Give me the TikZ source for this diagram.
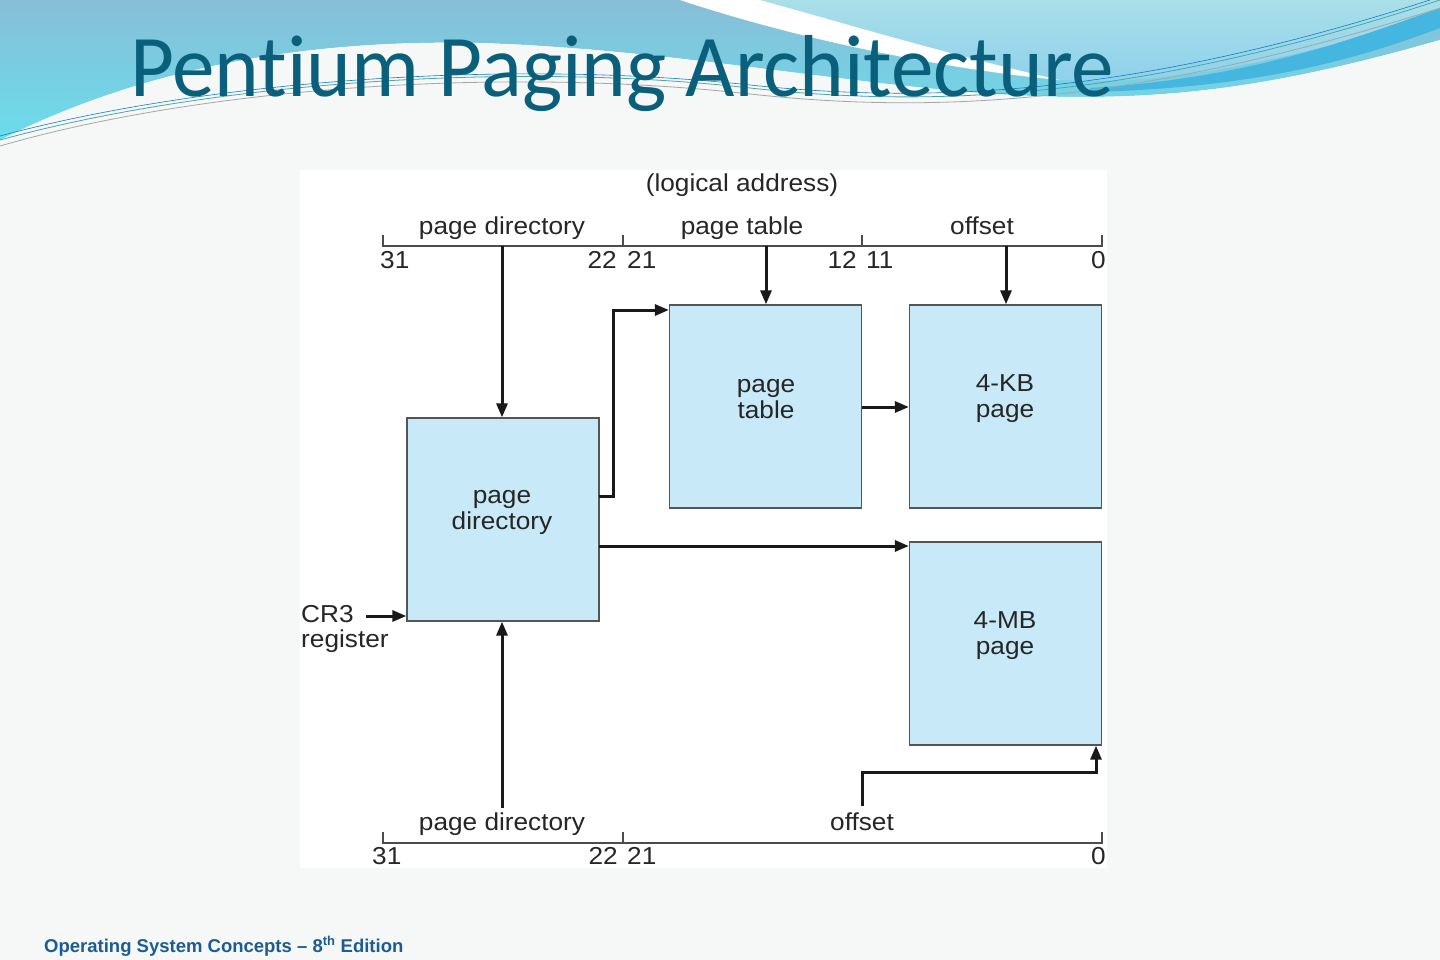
\documentclass[tikz,border=0pt]{standalone}
\usepackage{fontspec}
\setmainfont[FakeStretch=1.07]{Liberation Sans}
\newfontfamily\footfont[Ligatures=TeX]{Liberation Sans}
\newfontfamily\titlefont[Ligatures=NoCommon, FakeStretch=0.968]{Carlito}
\usetikzlibrary{arrows.meta,calc}
\definecolor{slidebg}{HTML}{F6F7F7}
\definecolor{boxfill}{HTML}{C8E9F8}
\definecolor{boxedge}{HTML}{555555}
\definecolor{titlecol}{RGB}{10,96,122}
\definecolor{footcol}{RGB}{28,92,145}
\definecolor{waveA}{HTML}{88BED7}
\definecolor{waveB}{HTML}{6ADDEC}
\definecolor{waveC}{HTML}{A9DFE8}
\definecolor{waveD}{HTML}{8CD0EC}
\definecolor{stripe}{HTML}{45B6E0}
\tikzset{
  pbox/.style={draw=boxedge, line width=1.3pt, fill=boxfill, minimum width=192pt, minimum height=203pt, inner sep=0pt},
  lbl/.style={font=\fontsize{24.5}{26}\selectfont, text=black!85, align=center, inner sep=0pt},
  txt/.style={font=\fontsize{24.5}{25}\selectfont, text=black!85, inner sep=0pt},
  arr/.style={line width=3pt, draw=black!90, -{Triangle[length=14pt,width=11pt]}},
  bar/.style={line width=1.5pt, draw=black!70},
}
\begin{document}
\begin{tikzpicture}[x=1pt,y=-1pt]
\useasboundingbox (0,0) rectangle (1440,960);
% slide background
\fill[slidebg] (0,0) rectangle (1440,960);
% header waves
\shade[top color=waveA, bottom color=waveB]
  (0,0) -- (1440,0) -- (1440,40) .. controls (1300,80) and (1200,97) .. (1080,97)
  .. controls (900,97) and (700,50) .. (480,43) .. controls (250,38) and (100,90) .. (0,140) -- cycle;
\shade[top color=waveC, bottom color=waveD]
  (760,0) .. controls (850,25) and (950,55) .. (1060,80) .. controls (1180,88) and (1320,50) .. (1440,15) -- (1440,0) -- cycle;
\fill[white] (680,0) .. controls (800,40) and (950,70) .. (1060,80) .. controls (950,55) and (850,25) .. (760,0) -- cycle;
\fill[stripe] (1090,88) .. controls (1250,78) and (1350,40) .. (1440,8) -- (1440,28) .. controls (1350,62) and (1250,88) .. (1090,92) -- cycle;
\fill[slidebg] (0,140) .. controls (100,90) and (250,38) .. (480,43) .. controls (700,50) and (900,97) .. (1080,97)
  .. controls (1200,97) and (1300,80) .. (1440,40) -- (1440,50) .. controls (1300,95) and (1200,104) .. (1080,104)
  .. controls (900,104) and (700,58) .. (480,51) .. controls (250,46) and (100,96) .. (0,148) -- cycle;
\draw[teal!70, line width=0.8pt] (0,140) .. controls (200,85) and (500,60) .. (750,88) .. controls (950,110) and (1150,95) .. (1440,0);
\draw[gray!70, line width=0.8pt] (0,146) .. controls (200,88) and (500,66) .. (750,94) .. controls (950,116) and (1150,100) .. (1440,8);
\draw[cyan!60!blue, line width=0.6pt] (0,136) .. controls (200,82) and (500,58) .. (750,85) .. controls (950,106) and (1150,90) .. (1430,0);
% title
\node[anchor=base west, inner sep=0pt, text=titlecol, font=\titlefont\fontsize{88}{90}\selectfont] (title) at (130,97) {Pentium Paging Architecture};
% diagram area
\fill[white] (300,170) rectangle (1107,868);
% boxes
\node[pbox] (pd) at (503,519.5) {};
\node[pbox] (pt) at (765.5,406.5) {};
\node[pbox] (kb) at (1005.5,406.5) {};
\node[pbox] (mb) at (1005.5,643.5) {};
\node[lbl] (pdl) at (502,512) {page\\directory};
\node[lbl] (ptl) at (766,399) {page\\table};
\node[lbl] (kbl) at (1005,399) {4-KB\\page};
\node[lbl] (mbl) at (1005,636) {4-MB\\page};
% top address
\node[txt, anchor=base] (la) at (742,192) {(logical address)};
\draw[bar] (383,235) -- (383,246) -- (1102,246) -- (1102,235);
\draw[bar] (623,235) -- (623,246);
\draw[bar] (862,235) -- (862,246);
\node[txt, anchor=base] (tpd) at (502,234) {page directory};
\node[txt, anchor=base] (tpt) at (742,234) {page table};
\node[txt, anchor=base] (tof) at (982,234) {offset};
\node[txt, anchor=base west] (n31) at (380,268) {31};
\node[txt, anchor=base east] (n22) at (617,268) {22};
\node[txt, anchor=base west] (n21) at (627,268) {21};
\node[txt, anchor=base east] (n12) at (857,268) {12};
\node[txt, anchor=base west] (n11) at (866,268) {11};
\node[txt, anchor=base east] (n0) at (1106,268) {0};
\coordinate (t1) at (502,246);
\coordinate (t2) at (766,246);
\coordinate (t3) at (1006,246);
\draw[arr] (t1) -- (pd.north -| t1);
\draw[arr] (t2) -- (pt.north -| t2);
\draw[arr] (t3) -- (kb.north -| t3);
% connections between boxes
\coordinate (pdo1) at (599,496);
\draw[arr] (pdo1) -- (613,496) -- (613,310) -- (pt.west |- 613,310);
\coordinate (pdo2) at (599,546);
\draw[arr] (pdo2) -- (mb.west |- pdo2);
\coordinate (pto) at (862,407);
\draw[arr] (pto) -- (kb.west |- pto);
% CR3
\node[txt, align=left, anchor=north west, font=\fontsize{24.5}{25.5}\selectfont] (cr3) at (301,605) {CR3\\register};
\coordinate (cr3s) at (366,616);
\draw[arr] (cr3s) -- (pd.west |- cr3s);
% bottom address
\draw[bar] (383,832) -- (383,843) -- (1102,843) -- (1102,832);
\draw[bar] (623,832) -- (623,843);
\node[txt, anchor=base] (bpd) at (502,830) {page directory};
\node[txt, anchor=base] (bof) at (862,830) {offset};
\node[txt, anchor=base west] (b31) at (372,864) {31};
\node[txt, anchor=base east] (b22) at (618,864) {22};
\node[txt, anchor=base west] (b21) at (627,864) {21};
\node[txt, anchor=base east] (b0) at (1106,864) {0};
\coordinate (b1) at (502,808);
\draw[arr] (b1) -- (pd.south -| b1);
\coordinate (b2) at (862,806);
\draw[arr] (b2) -- (862,772) -- (1096,772) -- (mb.south -| 1096,772);
% footer
\node[anchor=base west, inner sep=0pt, text=footcol, font=\footfont\bfseries\fontsize{18.5}{20}\selectfont] (foot) at (44,952) {Operating System Concepts – 8\textsuperscript{th} Edition};
\end{tikzpicture}
\end{document}
